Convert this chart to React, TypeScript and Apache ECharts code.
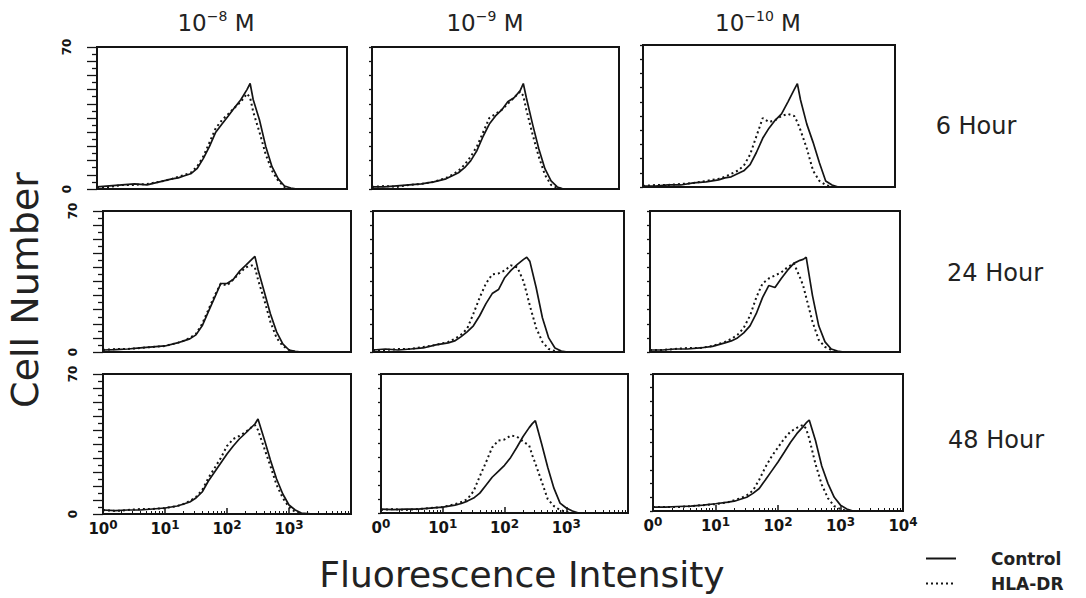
import React, { useEffect, useRef } from 'react';
import * as echarts from 'echarts';

// Fluorescence channels (log scale, intensity units)
const CHANNELS = [1, 1.58, 2.51, 3.98, 6.31, 10, 15.8, 20, 25.1, 31.6, 39.8, 50.1, 63.1, 79.4, 100, 126, 158, 200, 251, 282, 316, 398, 501, 631, 794, 1000, 1259, 1585, 2512, 10000];

const CONCENTRATION_EXP = ['−8', '−9', '−10'];
const TIME_LABELS = ['6 Hour', '24 Hour', '48 Hour'];
const Y_LABELS = [0, 70];
const LEGEND_NAMES = ['Control', 'HLA-DR'];

// Cell number per channel: Control (solid) and HLA-DR (dotted)
const control_6h_e8 = [1, 1.5, 2, 2.5, 2, 3.5, 5, 5.5, 6.5, 7.5, 10, 15, 21, 28, 32, 36, 40, 44, 49, 52, 44, 34, 21, 11, 5, 1.5, 0.5, 0, 0, 0];
const hla_6h_e8 = [1, 1, 2, 2, 2.5, 3.5, 5, 6, 7, 8, 11, 16, 23, 30, 34, 37, 40, 43, 47, 45, 38, 28, 17, 9, 4, 1, 0, 0, 0, 0];
const control_6h_e9 = [1, 1, 1.5, 2, 2.5, 3.5, 5, 6.5, 8, 10.5, 14, 19, 26, 32, 36, 39, 43, 45, 48.5, 52, 45, 32, 20, 10, 4, 1, 0, 0, 0, 0];
const hla_6h_e9 = [1, 1.5, 1, 2, 2.5, 3.5, 5.5, 7, 9, 12, 16, 21, 28, 35, 37, 39, 42, 45, 48, 46, 39, 27, 16, 7, 2, 0.5, 0, 0, 0, 0];
const control_6h_e10 = [0.5, 0.5, 1, 1, 2, 2.5, 3.5, 4.5, 5, 6.5, 8, 11, 17, 24, 29, 33, 36, 42, 48, 51, 43, 31, 22, 12, 3, 1, 0, 0, 0, 0];
const hla_6h_e10 = [0.5, 1, 1, 1.5, 2, 3, 4, 5, 6.5, 8, 10.5, 16, 25, 34, 32, 33, 35, 36, 35, 32, 28, 19, 8, 3, 1, 0, 0, 0, 0, 0];

const control_24h_e8 = [1, 1.2, 1.5, 2, 2.5, 3, 4.5, 5.5, 6.5, 8.5, 13, 20, 27, 34, 34, 36, 40, 43, 46, 47.5, 41, 30, 19, 10, 4, 1, 0.3, 0, 0, 0];
const hla_24h_e8 = [1, 1.5, 1.5, 2, 2.5, 3, 4.5, 5.5, 7, 9, 14, 21, 28, 34, 33, 36, 39, 42, 43, 42, 36, 26, 15, 7, 3, 1, 0, 0, 0, 0];
const control_24h_e9 = [1, 1.5, 1, 1.5, 2, 3.5, 4.5, 5.5, 7.5, 10, 13, 18, 24, 29, 31, 37, 40.5, 43.5, 46, 47, 45, 32, 17, 7, 2, 0.5, 0, 0, 0, 0];
const hla_24h_e9 = [1, 1, 1.5, 1.5, 2.5, 3.5, 5, 6.5, 8.5, 11.5, 19, 27, 34, 38.5, 39, 40.5, 43, 42, 35, 29, 23, 12, 5, 1.5, 0.5, 0, 0, 0, 0, 0];
const control_24h_e10 = [1, 1, 1.5, 1.5, 2, 2.8, 4.5, 5.5, 7, 9.5, 13, 19, 27, 33, 32, 36.5, 40.5, 44, 45.5, 46, 47, 28, 13, 5, 1.5, 0.5, 0, 0, 0, 0];
const hla_24h_e10 = [1, 1, 1.5, 2, 2, 3, 5, 6.5, 8.5, 12, 18, 27, 34, 36.5, 38, 39.5, 42, 44, 37, 33, 27, 15, 6, 2.5, 1, 0, 0, 0, 0, 0];

const control_48h_e8 = [2, 1.7, 2, 2, 2.5, 3, 4, 5, 6, 8, 11, 16.5, 21, 25.5, 30, 34, 37.5, 40.5, 43.5, 45, 47.5, 37.5, 27, 17.5, 10, 4.5, 2, 0.5, 0, 0];
const hla_48h_e8 = [2, 1.5, 2, 2.5, 2.5, 3, 4, 5, 6.5, 8.5, 12, 18, 23, 28, 34, 37.5, 39, 41, 43.5, 44.5, 42, 33, 24, 14.5, 8, 3.5, 1, 0, 0, 0];
const control_48h_e9 = [2, 1.7, 2, 2, 2.5, 3, 4, 4.8, 6, 7.5, 10, 14, 18, 21, 24, 28, 33, 38.5, 43, 45, 46.5, 35, 23, 12.5, 5, 2.5, 1, 0, 0, 0];
const hla_48h_e9 = [1.5, 2, 1.5, 2, 2.5, 3, 4.5, 5.5, 7, 11, 18.5, 25.5, 33, 36.5, 37, 39, 38.5, 36, 34, 29, 25, 16, 7, 3.5, 1.5, 0.5, 0, 0, 0, 0];
const control_48h_e10 = [2, 2, 2.3, 2.5, 3, 3.7, 4.5, 5, 6, 7, 9, 11.5, 16, 20.5, 25, 30, 35, 39.5, 43, 45, 46.5, 36, 23, 14, 7, 3, 1, 0, 0, 0];
const hla_48h_e10 = [2, 2, 2, 2.5, 3, 3.5, 4.5, 5.5, 6.5, 8, 10.5, 16, 22.5, 28, 32.5, 37, 40.5, 42.5, 44, 42, 37, 24, 13.5, 6.5, 2.5, 1, 0, 0, 0, 0];

const PANEL_DATA = [
  [control_6h_e8, hla_6h_e8], [control_6h_e9, hla_6h_e9], [control_6h_e10, hla_6h_e10],
  [control_24h_e8, hla_24h_e8], [control_24h_e9, hla_24h_e9], [control_24h_e10, hla_24h_e10],
  [control_48h_e8, hla_48h_e8], [control_48h_e9, hla_48h_e9], [control_48h_e10, hla_48h_e10],
];

// layout: [left, top, width, height] of each panel
const PANEL_BOX = [
  [97, 47, 250, 142], [372, 47, 247, 142], [643, 45, 252, 142],
  [103, 211, 248, 141], [373, 211, 251, 141], [650, 211, 250, 141],
  [103, 374, 248, 140], [381, 374, 247, 139], [653, 374, 250, 137],
];
const COL_TITLE_X = [216, 485, 758];
const ROW_LABEL_POS = [[976, 126], [995, 273], [996, 440]];
const LEGEND_TOP = [550, 575];

const FONT = '"DejaVu Sans", "Liberation Sans", sans-serif';
const INK = '#141414';

function buildOption() {
  const grid = PANEL_BOX.map(([l, t, w, h]) => ({
    left: l, top: t, width: w, height: h,
    show: true, borderColor: INK, borderWidth: 2, backgroundColor: 'transparent',
  }));
  const xAxis = PANEL_BOX.map((_, i) => {
    const r = Math.floor(i / 3), c = i % 3;
    return {
      type: 'log', logBase: 10, min: 1, max: 10000, gridIndex: i,
      axisLine: { show: false }, splitLine: { show: false },
      axisTick: { show: r === 2, inside: true, length: 6, lineStyle: { color: INK, width: 1.5 } },
      minorTick: { show: r === 2, splitNumber: 9, length: 3, lineStyle: { color: INK, width: 1 } },
      axisLabel: {
        show: r === 2, margin: 5,
        formatter: (v: number) => {
          const e = Math.round(Math.log10(v));
          if (c < 2 && e === 4) return '';
          if (c > 0 && e === 0) return '{b|0}{s|0}';
          return '{b|10}{s|' + e + '}';
        },
        rich: {
          b: { fontSize: 15, fontWeight: 'bold', fontFamily: FONT, color: INK, lineHeight: 19 },
          s: { fontSize: 12, fontWeight: 'bold', fontFamily: FONT, color: INK, verticalAlign: 'top' },
        },
      },
    };
  });
  const yAxis = PANEL_BOX.map((_, i) => {
    const c = i % 3;
    return {
      type: 'value', min: 0, max: 70, interval: 7, gridIndex: i,
      axisLine: { show: false }, splitLine: { show: false },
      axisTick: { show: true, length: c === 0 ? 10 : 3, lineStyle: { color: INK, width: 1.3 } },
      minorTick: { show: c === 0, splitNumber: 2, length: 5, lineStyle: { color: INK, width: 1.3 } },
      axisLabel: {
        show: c === 0, rotate: 90, margin: 24,
        fontSize: 12, fontWeight: 'bold', fontFamily: FONT, color: INK,
        formatter: (v: number) => (Y_LABELS.includes(v) ? String(v) : ''),
      },
    };
  });
  const series: any[] = [];
  PANEL_DATA.forEach(([ctl, hla], i) => {
    series.push({
      name: LEGEND_NAMES[0], type: 'line', xAxisIndex: i, yAxisIndex: i,
      data: CHANNELS.map((x, k) => [x, ctl[k]]),
      showSymbol: false, symbol: 'none', color: INK,
      lineStyle: { color: INK, width: 1.7, type: 'solid' }, z: 3,
    });
    series.push({
      name: LEGEND_NAMES[1], type: 'line', xAxisIndex: i, yAxisIndex: i,
      data: CHANNELS.map((x, k) => [x, hla[k]]),
      showSymbol: false, symbol: 'none', color: INK,
      lineStyle: { color: INK, width: 2, type: [2, 3] }, z: 4,
    });
  });

  const superRich = {
    n: { fontSize: 23, fontWeight: 'normal', fontFamily: FONT, color: '#222', lineHeight: 28 },
    s: { fontSize: 14, fontWeight: 'normal', fontFamily: FONT, color: '#222', verticalAlign: 'top' },
  };
  const title: any[] = [];
  CONCENTRATION_EXP.forEach((e, c) => {
    title.push({
      text: '{n|10}{s|' + e + '}{n| M}', left: COL_TITLE_X[c], top: 23,
      textAlign: 'center', textVerticalAlign: 'middle', padding: 0,
      textStyle: { fontWeight: 'normal', rich: superRich },
    });
  });
  TIME_LABELS.forEach((t, r) => {
    title.push({
      text: t, left: ROW_LABEL_POS[r][0], top: ROW_LABEL_POS[r][1],
      textAlign: 'center', textVerticalAlign: 'middle', padding: 0,
      textStyle: { fontSize: 24, fontWeight: 'normal', fontFamily: FONT, color: '#222' },
    });
  });
  title.push({
    text: 'Fluorescence Intensity', left: 522, top: 574,
    textAlign: 'center', textVerticalAlign: 'middle', padding: 0,
    textStyle: { fontSize: 36, fontWeight: 'normal', fontFamily: FONT, color: '#222' },
  });

  const legend = LEGEND_NAMES.map((name, k) => ({
    data: [name], orient: 'vertical', left: 925, top: LEGEND_TOP[k], padding: 0,
    itemWidth: 30, itemHeight: 12, selectedMode: false,
    itemStyle: { opacity: 0 },
    textStyle: { fontSize: 17, fontWeight: 'bold', fontFamily: FONT, color: '#222', padding: [0, 0, 0, 30] },
  }));

  return {
    animation: false,
    backgroundColor: '#ffffff',
    grid, xAxis, yAxis, series, title, legend,
    graphic: [
      {
        type: 'text', x: 25, y: 290, rotation: Math.PI / 2,
        style: {
          text: 'Cell Number', font: '38px "DejaVu Sans", sans-serif', fill: '#222',
          align: 'center', verticalAlign: 'middle',
        },
      },
    ],
  };
}

export default function App() {
  const ref = useRef<HTMLDivElement>(null);
  useEffect(() => {
    if (!ref.current) return;
    const chart = echarts.init(ref.current, undefined, { renderer: 'svg' });
    chart.setOption(buildOption() as any);
    return () => chart.dispose();
  }, []);
  return (
    <div
      ref={ref}
      style={{ position: 'fixed', left: 0, top: 0, width: 1086, height: 598, background: '#fff' }}
    />
  );
}
